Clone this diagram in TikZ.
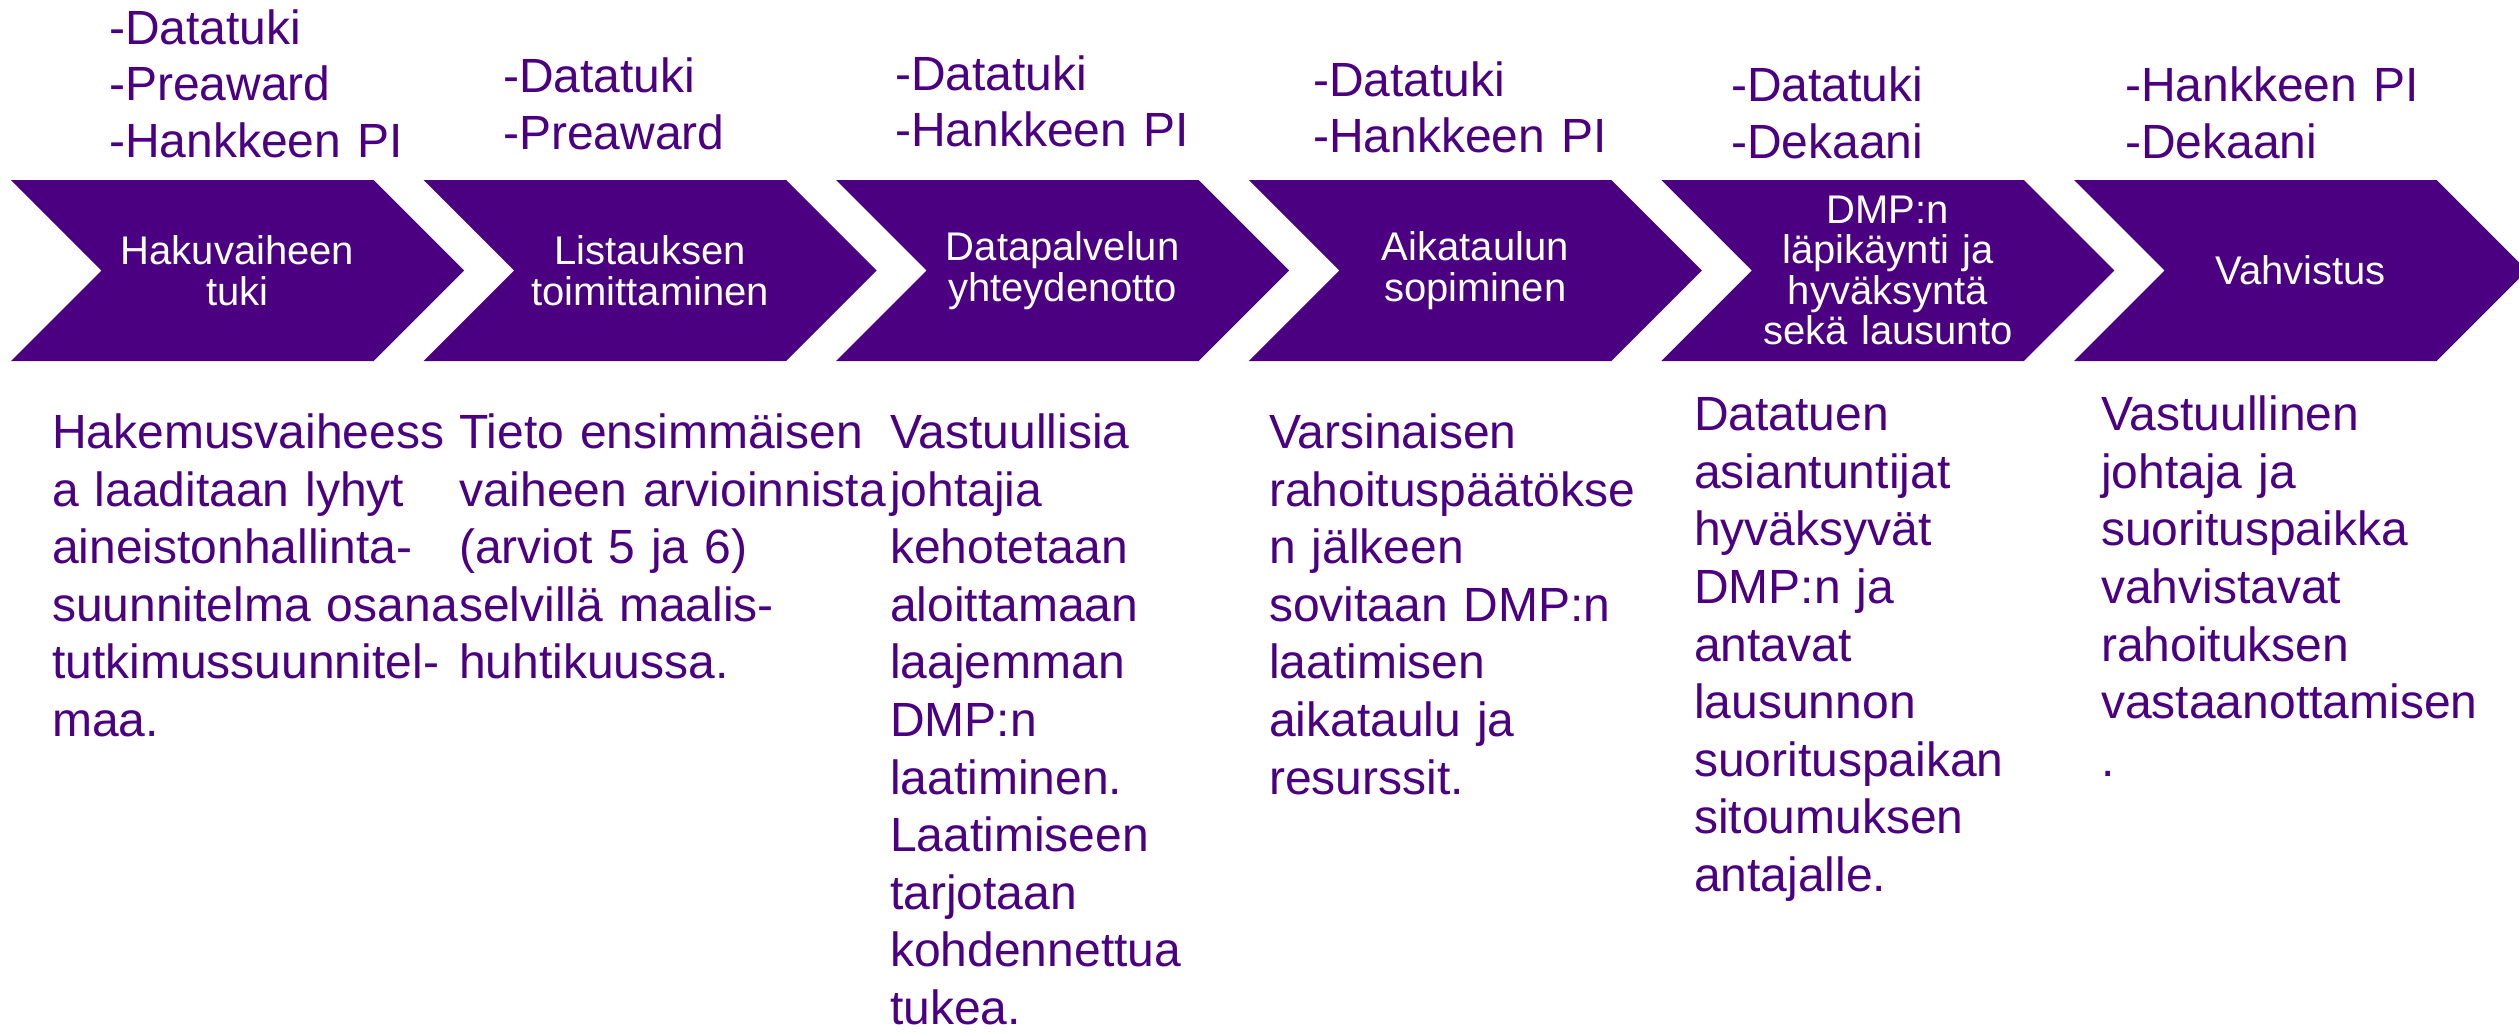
\documentclass[tikz,border=0pt]{standalone}
\usepackage{fontspec}
\setmainfont{Liberation Sans}
\usepackage{tikz}
\usetikzlibrary{shapes.symbols,positioning}
\definecolor{DMPviol}{HTML}{4B0082}
\tikzstyle{phase} = [signal,
signal from=west,
signal to=east,
signal pointer angle=90,
minimum height=181pt,
text width=252pt,
inner xsep=10pt,
inner ysep=0pt,
align=center,
fill=DMPviol,
text=white,
font=\fontsize{40}{40.5}\selectfont]
\tikzstyle{actor} = [anchor=base west,
inner sep=0pt,
text width=600pt,
align=left,
text=DMPviol,
font=\fontsize{48}{56.4}\selectfont]
\tikzstyle{desc} = [anchor=base west,
inner sep=0pt,
text width=600pt,
align=left,
text=DMPviol,
font=\fontsize{48}{57.6}\selectfont]
\begin{document}
\begin{tikzpicture}[x=1pt, y=-1pt, node distance=412.6pt]
                \useasboundingbox (0,0) rectangle (2519,1031);
                % phases
                \node[phase] (haku) at (237.5,270.5) {Hakuvaiheen\\tuki};
                \node[phase, right of=haku] (lista) {Listauksen\\toimittaminen};
                \node[phase, right of=lista] (yhteys) {Datapalvelun\\yhteydenotto};
                \node[phase, right of=yhteys] (aika) {Aikataulun\\sopiminen};
                \node[phase, right of=aika] (hyvaks) {DMP:n\\läpikäynti ja\\hyväksyntä\\sekä lausunto};
                \node[phase, right of=hyvaks] (vahv) {Vahvistus};

                % who takes part
                \node[actor] (hakuA) at (109,44.3) {-Datatuki\\-Preaward\\-Hankkeen PI};
                \node[actor] (listaA) at (503,92.7) {-Datatuki\\-Preaward};
                \node[actor] (yhteysA) at (895,90) {-Datatuki\\-Hankkeen PI};
                \node[actor] (aikaA) at (1313,96) {-Datatuki\\-Hankkeen PI};
                \node[actor] (hyvaksA) at (1731,101.7) {-Datatuki\\-Dekaani};
                \node[actor] (vahvA) at (2125,101.7) {-Hankkeen PI\\-Dekaani};

                % descriptions
                \node[desc] (hakuD) at (52,448.5) {Hakemusvaiheess\\a laaditaan lyhyt\\aineistonhallinta-\\suunnitelma osana\\tutkimussuunnitel-\\maa.};
                \node[desc] (listaD) at (459,448.5) {Tieto ensimmäisen\\vaiheen arvioinnista\\(arviot 5 ja 6)\\selvillä maalis-\\huhtikuussa.};
                \node[desc] (yhteysD) at (890,448.5) {Vastuullisia\\johtajia\\kehotetaan\\aloittamaan\\laajemman\\DMP:n\\laatiminen.\\Laatimiseen\\tarjotaan\\kohdennettua\\tukea.};
                \node[desc] (aikaD) at (1269,448.5) {Varsinaisen\\rahoituspäätökse\\n jälkeen\\sovitaan DMP:n\\laatimisen\\aikataulu ja\\resurssit.};
                \node[desc] (hyvaksD) at (1694,430.6) {Datatuen\\asiantuntijat\\hyväksyvät\\DMP:n ja\\antavat\\lausunnon\\suorituspaikan\\sitoumuksen\\antajalle.};
                \node[desc] (vahvD) at (2101,430.6) {Vastuullinen\\johtaja ja\\suorituspaikka\\vahvistavat\\rahoituksen\\vastaanottamisen\\.};
\end{tikzpicture}
\end{document}
